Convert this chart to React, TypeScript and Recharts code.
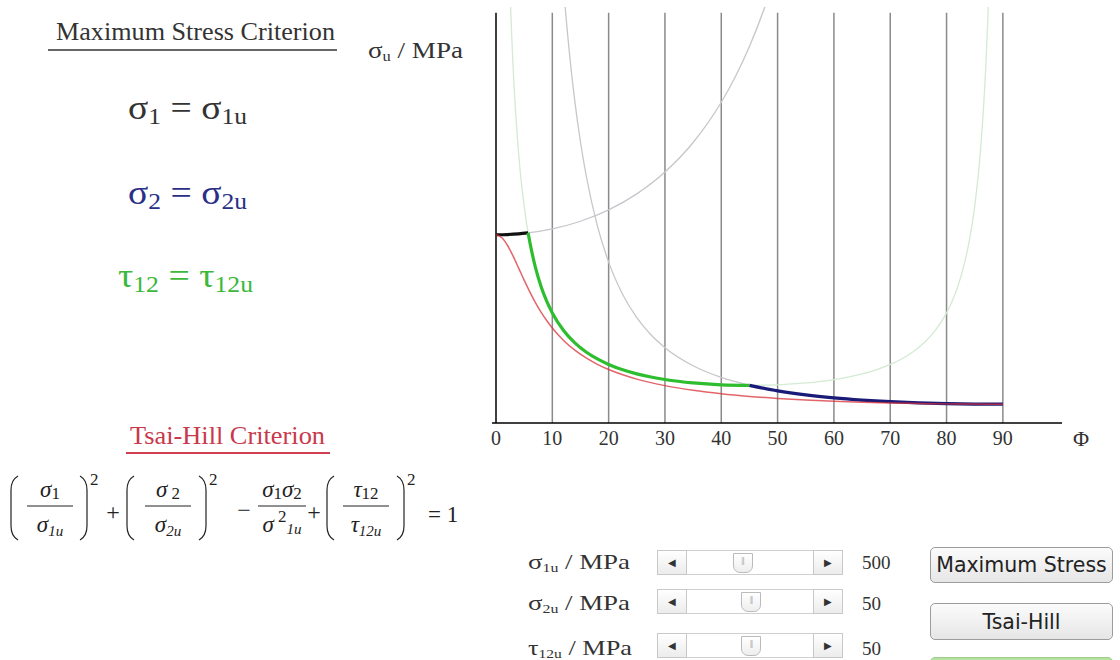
import React from "react";
import { LineChart, Line, XAxis, YAxis, ReferenceLine } from "recharts";

// failure stress (MPa) vs fibre angle Φ (deg)
const PHI_LONG = [0, 5, 10, 15, 20, 25, 30, 35, 40, 42.5, 45, 47.5, 50, 52.5];
const SIGMA_LONG = [500, 503.8, 515.5, 535.9, 566.2, 608.7, 666.7, 745.1, 852.1, 919.8, 1000, 1095.5, 1210.1, 1349.2];

const PHI_TRANS = [11, 12, 13, 14, 15, 16, 18, 20, 22.5, 25, 27.5, 30, 35, 40, 45, 50, 55, 60, 65, 70, 75, 80, 85, 90];
const SIGMA_TRANS = [1373, 1156.7, 988.1, 854.3, 746.4, 658.1, 523.6, 427.4, 341.4, 279.9, 234.5, 200, 152.0, 121.0, 100, 85.2, 74.5, 66.7, 60.9, 56.6, 53.6, 51.6, 50.4, 50];

const PHI_SHEAR = [2, 2.5, 3, 4, 5, 6, 7, 8, 9, 10, 12, 14, 16, 18, 20, 22.5, 25, 27.5, 30, 35, 40, 45, 50, 55, 60, 62.5, 65, 67.5, 70, 72, 74, 76, 78, 80, 81, 82, 83, 84, 85, 86, 87, 87.5, 88];
const SIGMA_SHEAR = [1433.6, 1147.4, 956.7, 718.5, 575.9, 481.0, 413.4, 362.8, 323.6, 292.4, 245.9, 213.0, 188.7, 170.1, 155.6, 141.4, 130.5, 122.1, 115.5, 106.4, 101.5, 100, 101.5, 106.4, 115.5, 122.1, 130.5, 141.4, 155.6, 170.1, 188.7, 213.0, 245.9, 292.4, 323.6, 362.8, 413.4, 481.0, 575.9, 718.5, 956.7, 1147.4, 1433.6];

// max stress envelope, split by governing mode
const PHI_ENV_1 = [0, 2, 4, 5.7];
const ENV_1 = [500, 500.6, 502.4, 505];
const PHI_ENV_2 = [5.7, 6, 7, 8, 9, 10, 12, 14, 16, 18, 20, 22.5, 25, 27.5, 30, 35, 40, 45];
const ENV_2 = [505, 481.0, 413.4, 362.8, 323.6, 292.4, 245.9, 213.0, 188.7, 170.1, 155.6, 141.4, 130.5, 122.1, 115.5, 106.4, 101.5, 100];
const PHI_ENV_3 = [45, 50, 55, 60, 65, 70, 75, 80, 85, 90];
const ENV_3 = [100, 85.2, 74.5, 66.7, 60.9, 56.6, 53.6, 51.6, 50.4, 50];

const PHI_TH = [0, 1, 2, 3, 4, 5, 6, 7, 8, 9, 10, 12, 14, 16, 18, 20, 22.5, 25, 27.5, 30, 35, 40, 45, 50, 55, 60, 65, 70, 75, 80, 85, 90];
const SIGMA_TH = [500, 492.8, 472.8, 444.4, 412.1, 379.4, 348.4, 320.0, 294.6, 272.2, 252.3, 219.3, 193.4, 172.7, 155.9, 142.1, 128.0, 116.6, 107.2, 99.3, 86.9, 77.7, 70.7, 65.3, 61.1, 57.8, 55.2, 53.2, 51.8, 50.8, 50.2, 50];

const X_TICKS = [0, 10, 20, 30, 40, 50, 60, 70, 80, 90];
const GRID_X = [10, 20, 30, 40, 50, 60, 70, 80, 90];

const SLIDERS = [
  { sub: "1u", sym: "σ", value: "500", thumb: 0.42 },
  { sub: "2u", sym: "σ", value: "50", thumb: 0.5 },
  { sub: "12u", sym: "τ", value: "50", thumb: 0.5 },
];
const SLIDER_TOP = [550, 589, 633];
const SLIDER_BASE = [569, 610, 655];

const pts = (xs: number[], ys: number[]) => xs.map((phi, i) => ({ phi, v: ys[i] }));

const SERIF = '"Liberation Serif", "Times New Roman", serif';
const SANS = '"DejaVu Sans", Verdana, sans-serif';

function Paren({ x, y0, y1, right }: { x: number; y0: number; y1: number; right?: boolean }) {
  const d = right ? 7 : -7;
  const xi = x + d;
  return (
    <path
      d={`M ${x} ${y0} Q ${xi} ${y0 + 4} ${xi} ${y0 + 14} L ${xi} ${y1 - 14} Q ${xi} ${y1 - 4} ${x} ${y1}`}
      fill="none"
      stroke="#222"
      strokeWidth={1.2}
    />
  );
}

function Frac({ cx, w, num, den }: { cx: number; w: number; num: React.ReactNode; den: React.ReactNode }) {
  return (
    <g>
      <text x={cx} y={497} textAnchor="middle" fontSize={23} fontStyle="italic" fill="#222">{num}</text>
      <line x1={cx - w / 2} x2={cx + w / 2} y1={506} y2={506} stroke="#222" strokeWidth={1.2} />
      <text x={cx} y={532} textAnchor="middle" fontSize={23} fontStyle="italic" fill="#222">{den}</text>
    </g>
  );
}

function Slider({ top, thumb }: { top: number; thumb: number }) {
  const W = 186;
  const btn: React.CSSProperties = {
    position: "absolute", top: 0, width: 30, height: 25, boxSizing: "border-box",
    border: "1px solid #c8c8c8", background: "linear-gradient(#ffffff, #ececec)",
    fontSize: 10, color: "#333", display: "flex", alignItems: "center", justifyContent: "center",
  };
  return (
    <div style={{ position: "absolute", left: 657, top, width: W, height: 25, boxSizing: "border-box", border: "1px solid #d0d0d0", background: "#fff" }}>
      <div style={{ ...btn, left: -1, top: -1 }}>◀</div>
      <div style={{ ...btn, right: -1, top: -1 }}>▶</div>
      <div
        style={{
          position: "absolute", top: 2, left: 30 + thumb * (W - 80), width: 18, height: 18,
          border: "1px solid #bbb", borderRadius: "0 0 7px 7px", background: "linear-gradient(#fff, #eee)",
          fontSize: 8, color: "#aaa", textAlign: "center", lineHeight: "14px", letterSpacing: -1,
        }}
      >
        ||||
      </div>
    </div>
  );
}

function Btn({ top, label, height, green }: { top: number; label: string; height: number; green?: boolean }) {
  return (
    <div
      style={{
        position: "absolute", left: 930, top, width: 183, height, boxSizing: "border-box",
        border: green ? "1px solid #9ccc8a" : "1px solid #9c9c9c", borderRadius: 5,
        background: green ? "linear-gradient(#b6e3a2, #98d47e)" : "linear-gradient(#fbfbfb, #e6e6e6)",
        fontFamily: SANS, fontSize: 20.5, color: "#222", display: "flex", alignItems: "center", justifyContent: "center",
        whiteSpace: "nowrap",
      }}
    >
      {label}
    </div>
  );
}

export default function App() {
  return (
    <div style={{ position: "absolute", left: 0, top: 0, width: 1120, height: 660, background: "#fff", overflow: "hidden", fontFamily: SERIF }}>
      <div style={{ position: "absolute", left: 480, top: 0 }}>
        <LineChart width={640} height={470} margin={{ top: 7, right: 58, bottom: 17, left: 12 }}>
          <XAxis
            dataKey="phi"
            type="number"
            domain={[-0.71, 100.5]}
            ticks={X_TICKS}
            allowDataOverflow
            tickLine={false}
            axisLine={{ stroke: "#000", strokeWidth: 1.5 }}
            tick={{ fill: "#333", fontSize: 20, fontFamily: SERIF }}
          />
          <YAxis type="number" domain={[0, 1105]} allowDataOverflow hide />
          {GRID_X.map((g) => (
            <ReferenceLine key={g} segment={[{ x: g, y: 0 }, { x: g, y: 1090 }]} stroke="#8a8a8a" strokeWidth={1.5} />
          ))}
          <ReferenceLine segment={[{ x: 0, y: 0 }, { x: 0, y: 1090 }]} stroke="#000" strokeWidth={1.5} />
          <Line data={pts(PHI_LONG, SIGMA_LONG)} dataKey="v" type="monotone" stroke="#c6c6cc" strokeWidth={1.3} dot={false} isAnimationActive={false} />
          <Line data={pts(PHI_TRANS, SIGMA_TRANS)} dataKey="v" type="monotone" stroke="#c6c6cc" strokeWidth={1.3} dot={false} isAnimationActive={false} />
          <Line data={pts(PHI_SHEAR, SIGMA_SHEAR)} dataKey="v" type="monotone" stroke="#d4ead4" strokeWidth={1.3} dot={false} isAnimationActive={false} />
          <Line data={pts(PHI_ENV_1, ENV_1)} dataKey="v" type="monotone" stroke="#111" strokeWidth={3.2} dot={false} isAnimationActive={false} />
          <Line data={pts(PHI_ENV_2, ENV_2)} dataKey="v" type="monotone" stroke="#2ebd2e" strokeWidth={3.2} dot={false} isAnimationActive={false} />
          <Line data={pts(PHI_ENV_3, ENV_3)} dataKey="v" type="monotone" stroke="#1a1a78" strokeWidth={3.2} dot={false} isAnimationActive={false} />
          <Line data={pts(PHI_TH, SIGMA_TH)} dataKey="v" type="monotone" stroke="#d8323a" strokeOpacity={0.75} strokeWidth={1.5} dot={false} isAnimationActive={false} />
        </LineChart>
      </div>

      <svg width={1120} height={660} style={{ position: "absolute", left: 0, top: 0, pointerEvents: "none" }} fontFamily={SERIF}>
        <text x={56} y={40} fontSize={26} fill="#333" textLength={279} lengthAdjust="spacingAndGlyphs">Maximum Stress Criterion</text>
        <line x1={48} x2={337} y1={50} y2={50} stroke="#333" strokeWidth={1.5} />

        <text x={368} y={58} fontSize={23} fill="#333" textLength={95} lengthAdjust="spacingAndGlyphs">
          σ<tspan fontSize={14} dy={3}>u</tspan><tspan dy={-3}> / MPa</tspan>
        </text>

        <text x={128} y={119} fontSize={34} fill="#333" textLength={119} lengthAdjust="spacingAndGlyphs">
          σ<tspan fontSize={23} dy={5}>1</tspan><tspan dy={-5}> = σ</tspan><tspan fontSize={23} dy={5}>1u</tspan>
        </text>
        <text x={128} y={204} fontSize={34} fill="#2a2f88" textLength={119} lengthAdjust="spacingAndGlyphs">
          σ<tspan fontSize={23} dy={5}>2</tspan><tspan dy={-5}> = σ</tspan><tspan fontSize={23} dy={5}>2u</tspan>
        </text>
        <text x={118} y={287} fontSize={34} fill="#3cb83c" textLength={135} lengthAdjust="spacingAndGlyphs">
          τ<tspan fontSize={23} dy={5}>12</tspan><tspan dy={-5}> = τ</tspan><tspan fontSize={23} dy={5}>12u</tspan>
        </text>

        <text x={130} y={444} fontSize={26} fill="#c8394c" textLength={195} lengthAdjust="spacingAndGlyphs">Tsai-Hill Criterion</text>
        <line x1={126} x2={330} y1={453} y2={453} stroke="#d04050" strokeWidth={2} />

        {/* Tsai-Hill formula */}
        <Paren x={18} y0={476} y1={540} />
        <Frac cx={50} w={46} num={<>σ<tspan fontStyle="normal" fontSize={17} dy={2}>1</tspan></>} den={<>σ<tspan fontSize={15} dy={4}>1u</tspan></>} />
        <Paren x={80} y0={476} y1={540} right />
        <text x={90} y={485} fontSize={17} fill="#222">2</text>
        <text x={113} y={520} fontSize={24} fill="#222" textAnchor="middle">+</text>

        <Paren x={134} y0={476} y1={540} />
        <Frac cx={168} w={46} num={<>σ<tspan fontStyle="normal" fontSize={17} dy={2}> 2</tspan></>} den={<>σ<tspan fontSize={15} dy={4}>2u</tspan></>} />
        <Paren x={199} y0={476} y1={540} right />
        <text x={209} y={485} fontSize={17} fill="#222">2</text>
        <text x={244} y={518} fontSize={24} fill="#222" textAnchor="middle">−</text>

        <Frac
          cx={282}
          w={48}
          num={<>σ<tspan fontStyle="normal" fontSize={17} dy={2}>1</tspan><tspan dy={-2}>σ</tspan><tspan fontStyle="normal" fontSize={17} dy={2}>2</tspan></>}
          den={<>σ<tspan fontStyle="normal" fontSize={17} dy={-10}> 2</tspan><tspan fontSize={15} dy={12}>1u</tspan></>}
        />
        <text x={314} y={520} fontSize={24} fill="#222" textAnchor="middle">+</text>

        <Paren x={334} y0={476} y1={540} />
        <Frac cx={366} w={46} num={<>τ<tspan fontStyle="normal" fontSize={17} dy={2}>12</tspan></>} den={<>τ<tspan fontSize={15} dy={4}>12u</tspan></>} />
        <Paren x={397} y0={476} y1={540} right />
        <text x={407} y={485} fontSize={17} fill="#222">2</text>
        <text x={428} y={522} fontSize={23} fill="#222">= 1</text>

        {/* slider labels and values */}
        {SLIDERS.map((s, i) => (
          <g key={s.sub}>
            <text x={528} y={SLIDER_BASE[i]} fontSize={22} fill="#333" textLength={i === 2 ? 104 : 102} lengthAdjust="spacingAndGlyphs">
              {s.sym}<tspan fontSize={13} dy={3}>{s.sub}</tspan><tspan dy={-3}> / MPa</tspan>
            </text>
            <text x={862} y={SLIDER_BASE[i]} fontSize={19} fill="#333">{s.value}</text>
          </g>
        ))}

        <text x={1073} y={446} fontSize={22} fill="#333">Φ</text>
      </svg>

      {SLIDERS.map((s, i) => (
        <Slider key={s.sub} top={SLIDER_TOP[i]} thumb={s.thumb} />
      ))}

      <Btn top={547} height={36} label="Maximum Stress" />
      <Btn top={603} height={37} label="Tsai-Hill" />
      <Btn top={657} height={36} label="" green />
    </div>
  );
}
